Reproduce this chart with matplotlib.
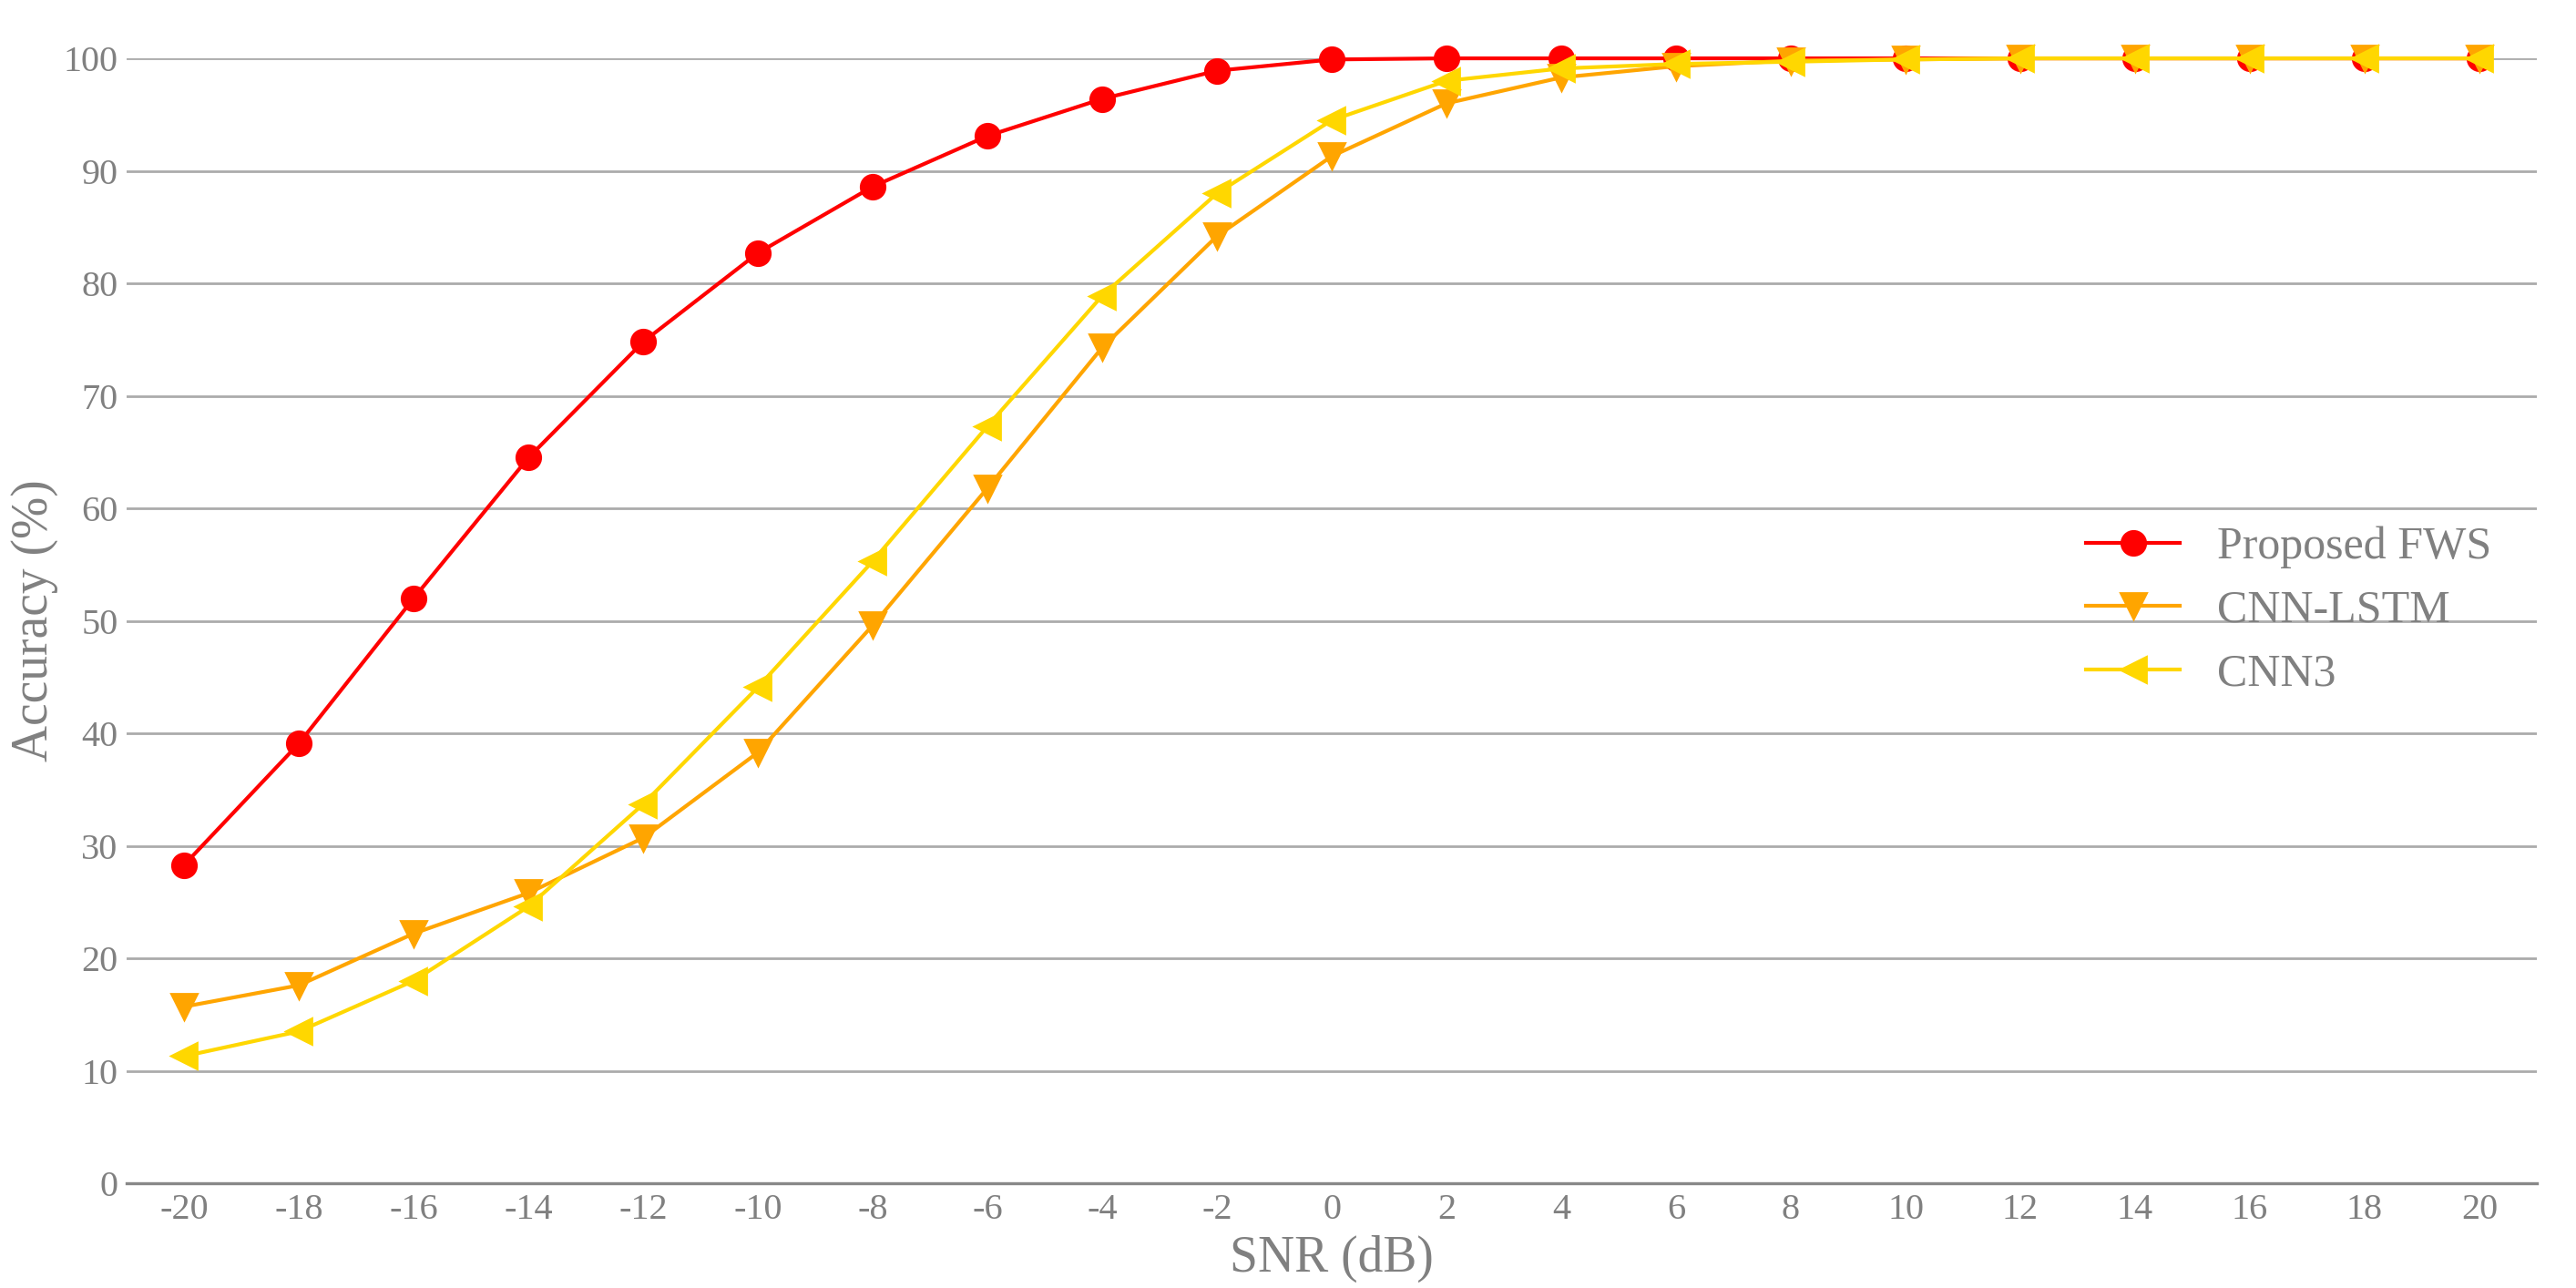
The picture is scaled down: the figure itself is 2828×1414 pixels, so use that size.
import matplotlib
matplotlib.use('Agg')
import matplotlib.pyplot as plt

plt.rcParams['font.family'] = ['Liberation Serif', 'DejaVu Serif']

# data
snr = [-20, -18, -16, -14, -12, -10, -8, -6, -4, -2, 0, 2, 4, 6, 8, 10, 12, 14, 16, 18, 20]
fws = [28.3, 39.1, 52.0, 64.5, 74.8, 82.7, 88.6, 93.1, 96.4, 98.9, 99.9,
       100, 100, 100, 100, 100, 100, 100, 100, 100, 100]
cnn_lstm = [15.7, 17.6, 22.2, 25.8, 30.7, 38.3, 49.6, 61.8, 74.3, 84.2, 91.3,
            96.0, 98.3, 99.3, 99.8, 99.9, 100, 100, 100, 100, 100]
cnn3 = [11.3, 13.5, 18.0, 24.6, 33.7, 44.1, 55.3, 67.3, 78.9, 88.0, 94.5,
        98.0, 99.1, 99.5, 99.7, 99.9, 100, 100, 100, 100, 100]
yticks = list(range(0, 101, 10))

text_color = '#808080'

fig = plt.figure(figsize=(14.14, 7.07), dpi=200)
ax = fig.add_axes([0.0492, 0.0813, 0.9356, 0.8734])

ax.plot(snr, fws, color='#FF0000', marker='o', markersize=9.5, linewidth=1.5,
        label='Proposed FWS', clip_on=False)
ax.plot(snr, cnn_lstm, color='#FFA500', marker='v', markersize=10, linewidth=1.5,
        label='CNN-LSTM', clip_on=False)
ax.plot(snr, cnn3, color='#FFD700', marker='<', markersize=10, linewidth=1.5,
        label='CNN3', clip_on=False)

ax.set_xlim(-21, 21)
ax.set_ylim(0, 100)
ax.set_xticks(snr)
ax.set_xticklabels([str(s) for s in snr])
ax.set_yticks(yticks)

ax.grid(axis='y', color='#ababab', linewidth=1.0)
ax.set_axisbelow(True)
for side in ['top', 'right', 'left']:
    ax.spines[side].set_visible(False)
ax.spines['bottom'].set_color('#888888')
ax.spines['bottom'].set_linewidth(1.2)
ax.spines['bottom'].set_zorder(1)

ax.tick_params(axis='both', length=0, labelsize=14.5, labelcolor=text_color)
ax.tick_params(axis='x', pad=4)
ax.tick_params(axis='y', pad=3.5)

ax.set_xlabel('SNR (dB)', fontsize=20, color=text_color, labelpad=3)
ax.set_ylabel('Accuracy (%)', fontsize=20, color=text_color, labelpad=2)

leg = ax.legend(loc='center left', bbox_to_anchor=(0.813, 0.509), frameon=False,
                fontsize=18, handlelength=2.06, handletextpad=0.82,
                labelspacing=0.46, borderpad=0, borderaxespad=0)
for t in leg.get_texts():
    t.set_color(text_color)

fig.savefig('out.png', dpi=200)
